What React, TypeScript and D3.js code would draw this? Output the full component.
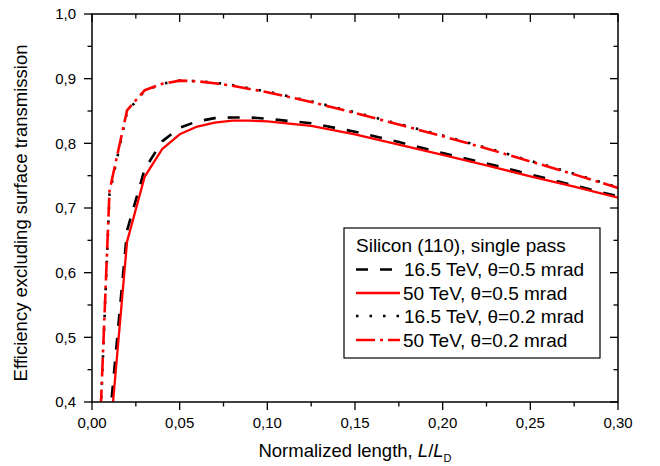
import React from "react";
import * as d3 from "d3";

// ---- data ----
const xDashed = [0.01, 0.02, 0.03, 0.04, 0.05, 0.06, 0.07, 0.08, 0.09, 0.1, 0.125, 0.15, 0.175, 0.2, 0.225, 0.25, 0.275, 0.3];
const yDashed = [0.37, 0.665, 0.76, 0.803, 0.824, 0.834, 0.839, 0.84, 0.84, 0.838, 0.831, 0.818, 0.802, 0.785, 0.769, 0.752, 0.735, 0.718];

const xSolid = [0.01, 0.02, 0.03, 0.04, 0.05, 0.06, 0.07, 0.08, 0.09, 0.1, 0.125, 0.15, 0.175, 0.2, 0.225, 0.25, 0.275, 0.3];
const ySolid = [0.338, 0.648, 0.748, 0.791, 0.814, 0.826, 0.832, 0.835, 0.835, 0.834, 0.827, 0.814, 0.798, 0.782, 0.766, 0.749, 0.733, 0.716];

const xDotted = [0.005, 0.01, 0.02, 0.03, 0.04, 0.05, 0.06, 0.07, 0.08, 0.09, 0.1, 0.125, 0.15, 0.175, 0.2, 0.225, 0.25, 0.275, 0.3];
const yDotted = [0.385, 0.722, 0.849, 0.881, 0.892, 0.897, 0.896, 0.894, 0.89, 0.885, 0.88, 0.865, 0.848, 0.83, 0.812, 0.793, 0.773, 0.753, 0.732];

const xDashDot = [0.005, 0.01, 0.02, 0.03, 0.04, 0.05, 0.06, 0.07, 0.08, 0.09, 0.1, 0.125, 0.15, 0.175, 0.2, 0.225, 0.25, 0.275, 0.3];
const yDashDot = [0.39, 0.727, 0.851, 0.882, 0.892, 0.897, 0.896, 0.893, 0.889, 0.884, 0.879, 0.864, 0.847, 0.829, 0.811, 0.792, 0.772, 0.752, 0.731];

const xMajorTicks = [0, 0.05, 0.1, 0.15, 0.2, 0.25, 0.3];
const xTickLabels = ["0,00", "0,05", "0,10", "0,15", "0,20", "0,25", "0,30"];
const xMinorTicks = [0.025, 0.075, 0.125, 0.175, 0.225, 0.275];
const yMajorTicks = [0.4, 0.5, 0.6, 0.7, 0.8, 0.9, 1.0];
const yTickLabels = ["0,4", "0,5", "0,6", "0,7", "0,8", "0,9", "1,0"];
const yMinorTicks = [0.45, 0.55, 0.65, 0.75, 0.85, 0.95];

const legendTitle = "Silicon (110), single pass";
const legendLabels = ["16.5 TeV, θ=0.5 mrad", "50 TeV, θ=0.5 mrad", "16.5 TeV, θ=0.2 mrad", "50 TeV, θ=0.2 mrad"];

const FONT = "'Liberation Sans', Arial, Helvetica, sans-serif";

const W = 660;
const H = 466;
const L = 92;
const R = 618;
const T = 14;
const B = 402;

export default function App() {
  const x = d3.scaleLinear().domain([0, 0.3]).range([L, R]);
  const y = d3.scaleLinear().domain([0.4, 1.0]).range([B, T]);

  const mk = (xs: number[], ys: number[]) =>
    d3.line<number>().x((_, i) => x(xs[i])).y((_, i) => y(ys[i]))(xs) || "";

  const styles = [
    { xs: xDashed, ys: yDashed, stroke: "#000", width: 2.6, dash: "12,12" },
    { xs: xSolid, ys: ySolid, stroke: "#ff0000", width: 2.3, dash: "" },
    { xs: xDotted, ys: yDotted, stroke: "#000", width: 2.6, dash: "2.5,11" },
    { xs: xDashDot, ys: yDashDot, stroke: "#ff0000", width: 2.6, dash: "19,5,3,5" },
  ];

  const legendRowsY = [269.5, 293, 316, 340];
  const legendTextX = [404, 403, 404, 403];

  return (
    <svg
      width={W}
      height={H}
      style={{ position: "absolute", left: 0, top: 0, background: "#fff" }}
      fontFamily={FONT}
    >
      <rect x={0} y={0} width={W} height={H} fill="#fff" />
      <defs>
        <clipPath id="plotclip">
          <rect x={L} y={T} width={R - L} height={B - T} />
        </clipPath>
      </defs>

      {/* curves */}
      <g clipPath="url(#plotclip)" fill="none">
        {styles.map((s, i) => (
          <path
            key={i}
            d={mk(s.xs, s.ys)}
            stroke={s.stroke}
            strokeWidth={s.width}
            strokeDasharray={s.dash || undefined}
            strokeLinejoin="round"
          />
        ))}
      </g>

      {/* frame */}
      <rect x={L} y={T} width={R - L} height={B - T} fill="none" stroke="#000" strokeWidth={1.5} />

      {/* x ticks */}
      {xMajorTicks.map((v, i) => (
        <g key={"xm" + i}>
          <line x1={x(v)} x2={x(v)} y1={B} y2={B + 8} stroke="#000" strokeWidth={1.3} />
          <line x1={x(v)} x2={x(v)} y1={T} y2={T + 8} stroke="#000" strokeWidth={1.3} />
          <text x={x(v)} y={B + 26} textAnchor="middle" fontSize={15} fill="#000">
            {xTickLabels[i]}
          </text>
        </g>
      ))}
      {xMinorTicks.map((v, i) => (
        <g key={"xn" + i}>
          <line x1={x(v)} x2={x(v)} y1={B} y2={B + 4.5} stroke="#000" strokeWidth={1.3} />
          <line x1={x(v)} x2={x(v)} y1={T} y2={T + 4.5} stroke="#000" strokeWidth={1.3} />
        </g>
      ))}

      {/* y ticks */}
      {yMajorTicks.map((v, i) => (
        <g key={"ym" + i}>
          <line x1={L - 8} x2={L} y1={y(v)} y2={y(v)} stroke="#000" strokeWidth={1.3} />
          <line x1={R - 8} x2={R} y1={y(v)} y2={y(v)} stroke="#000" strokeWidth={1.3} />
          <text x={76} y={y(v)} dy="0.35em" textAnchor="end" fontSize={15} fill="#000">
            {yTickLabels[i]}
          </text>
        </g>
      ))}
      {yMinorTicks.map((v, i) => (
        <g key={"yn" + i}>
          <line x1={L - 4.5} x2={L} y1={y(v)} y2={y(v)} stroke="#000" strokeWidth={1.3} />
          <line x1={R - 4.5} x2={R} y1={y(v)} y2={y(v)} stroke="#000" strokeWidth={1.3} />
        </g>
      ))}

      {/* axis titles */}
      <text x={(L + R) / 2} y={457} textAnchor="middle" fontSize={18.5} fill="#000">
        Normalized length, <tspan fontStyle="italic">L</tspan>/<tspan fontStyle="italic">L</tspan>
        <tspan fontSize={11} dy={5}>D</tspan>
      </text>
      <text
        transform={`translate(27, 213) rotate(-90)`}
        textAnchor="middle"
        fontSize={18.5}
        fill="#000"
      >
        Efficiency excluding surface transmission
      </text>

      {/* legend */}
      <rect x={344} y={228} width={256} height={130} fill="#fff" stroke="#000" strokeWidth={1.2} />
      <text x={356} y={251.5} fontSize={19} fill="#000">
        {legendTitle}
      </text>
      {styles.map((s, i) => (
        <g key={"lg" + i}>
          <line
            x1={356}
            x2={400}
            y1={legendRowsY[i]}
            y2={legendRowsY[i]}
            stroke={s.stroke}
            strokeWidth={s.width}
            strokeDasharray={s.dash || undefined}
          />
          <text x={legendTextX[i]} y={legendRowsY[i] + 6.5} fontSize={19} fill="#000">
            {legendLabels[i]}
          </text>
        </g>
      ))}
    </svg>
  );
}
